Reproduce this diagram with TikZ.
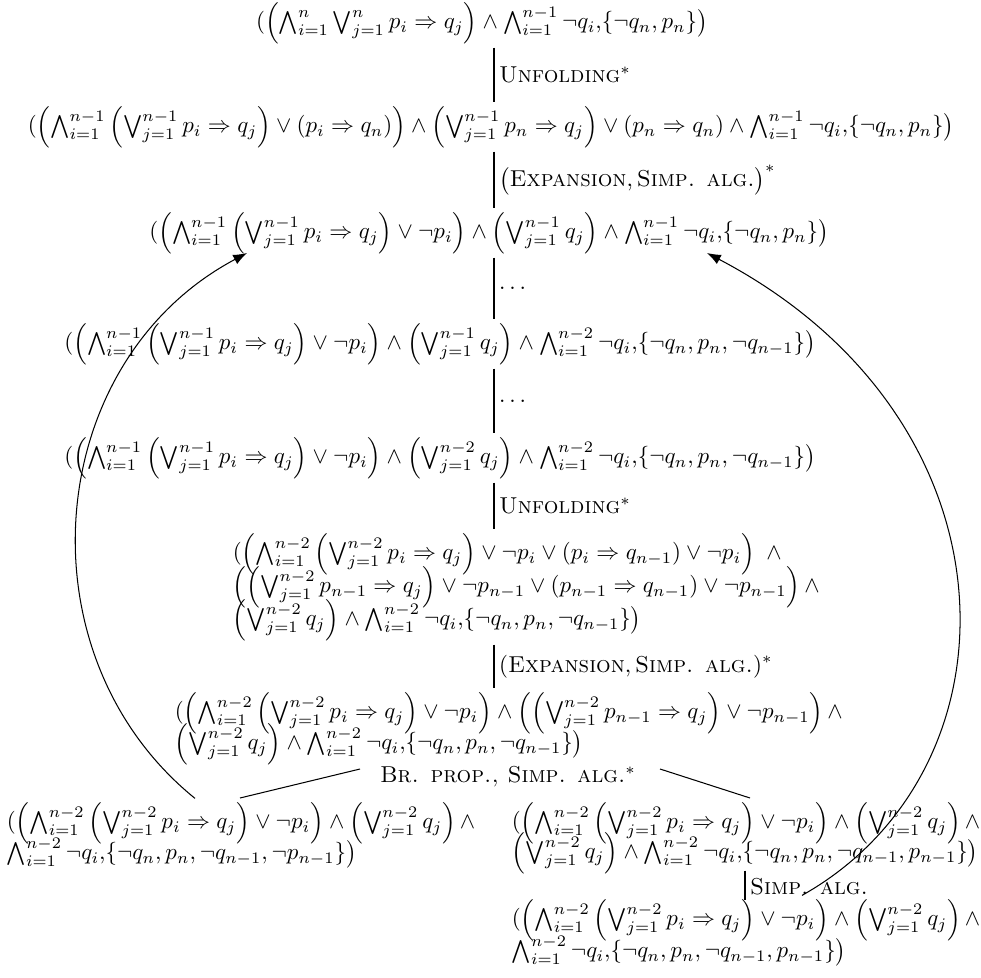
\documentclass[tikz,border=0pt]{standalone}
\usepackage{amsmath}
\usetikzlibrary{arrows.meta}
\newcommand\Wi[1]{\bigwedge_{i=1}^{#1}}
\newcommand\Vj[1]{\bigvee_{j=1}^{#1}}
\begin{document}
\begin{tikzpicture}[x=0.4348pt,y=-0.4348pt,
  formula/.style={inner sep=1.5pt},
  mline/.style={inner sep=1.5pt, anchor=west},
  rulelab/.style={right, inner sep=2pt},
  edge/.style={line width=0.45pt},
  back/.style={-{Latex[length=6pt,width=4.5pt]}, line width=0.45pt}]
\useasboundingbox (0,0) rectangle (981,978);
\coordinate (cx) at (494,0);
\node[formula] (r1) at (482,23) {$(\left(\Wi{n}\Vj{n} p_i \Rightarrow q_j\right) \wedge \Wi{n-1}\neg q_i{,}\{\neg q_n, p_n\}\bigr)$};
\node[formula] (r2) at (491,127) {$(\left(\Wi{n-1}\left(\Vj{n-1} p_i \Rightarrow q_j\right) \vee (p_i \Rightarrow q_n)\right) \wedge \left(\Vj{n-1} p_n \Rightarrow q_j\right) \vee (p_n \Rightarrow q_n) \wedge \Wi{n-1}\neg q_i{,}\{\neg q_n, p_n\}\bigr)$};
\node[formula] (r3) at (489,233) {$(\left(\Wi{n-1}\left(\Vj{n-1} p_i \Rightarrow q_j\right) \vee \neg p_i\right) \wedge \left(\Vj{n-1} q_j\right) \wedge \Wi{n-1}\neg q_i{,}\{\neg q_n, p_n\}\bigr)$};
\node[formula] (r4) at (440,344) {$(\left(\Wi{n-1}\left(\Vj{n-1} p_i \Rightarrow q_j\right) \vee \neg p_i\right) \wedge \left(\Vj{n-1} q_j\right) \wedge \Wi{n-2}\neg q_i{,}\{\neg q_n, p_n, \neg q_{n-1}\}\bigr)$};
\node[formula] (r5) at (440,458) {$(\left(\Wi{n-1}\left(\Vj{n-1} p_i \Rightarrow q_j\right) \vee \neg p_i\right) \wedge \left(\Vj{n-2} q_j\right) \wedge \Wi{n-2}\neg q_i{,}\{\neg q_n, p_n, \neg q_{n-1}\}\bigr)$};
% row 6 (three lines)
\node[mline] (r6a) at (229,554) {$(\left(\Wi{n-2}\left(\Vj{n-2} p_i \Rightarrow q_j\right) \vee \neg p_i \vee (p_i \Rightarrow q_{n-1}) \vee \neg p_i\right)\ \wedge$};
\node[mline] (r6b) at (229,587) {$\left(\left(\Vj{n-2} p_{n-1} \Rightarrow q_j\right) \vee \neg p_{n-1} \vee (p_{n-1} \Rightarrow q_{n-1}) \vee \neg p_{n-1}\right)\wedge$};
\node[mline] (r6c) at (229,620) {$\left(\Vj{n-2} q_j\right) \wedge \Wi{n-2}\neg q_i{,}\{\neg q_n, p_n, \neg q_{n-1}\}\bigr)$};
% row 7 (two lines)
\node[mline] (r7a) at (171,713) {$(\left(\Wi{n-2}\left(\Vj{n-2} p_i \Rightarrow q_j\right) \vee \neg p_i\right) \wedge \left(\left(\Vj{n-2} p_{n-1} \Rightarrow q_j\right) \vee \neg p_{n-1}\right) \wedge$};
\node[mline] (r7b) at (171,744) {$\left(\Vj{n-2} q_j\right) \wedge \Wi{n-2}\neg q_i{,}\{\neg q_n, p_n, \neg q_{n-1}\}\bigr)$};
\node[inner sep=2pt] (br) at (508,777) {\textsc{Br. prop., Simp. alg.}$^*$};
% bottom left
\node[mline] (bla) at (3,823) {$(\left(\Wi{n-2}\left(\Vj{n-2} p_i \Rightarrow q_j\right) \vee \neg p_i\right) \wedge \left(\Vj{n-2} q_j\right) \wedge$};
\node[mline] (blb) at (3,853) {$\Wi{n-2}\neg q_i{,}\{\neg q_n, p_n, \neg q_{n-1}, \neg p_{n-1}\}\bigr)$};
% bottom right
\node[mline] (bma) at (508,823) {$(\left(\Wi{n-2}\left(\Vj{n-2} p_i \Rightarrow q_j\right) \vee \neg p_i\right) \wedge \left(\Vj{n-2} q_j\right) \wedge$};
\node[mline] (bmb) at (508,853) {$\left(\Vj{n-2} q_j\right) \wedge \Wi{n-2}\neg q_i{,}\{\neg q_n, p_n, \neg q_{n-1}, p_{n-1}\}\bigr)$};
% final
\node[mline] (bfa) at (508,920) {$(\left(\Wi{n-2}\left(\Vj{n-2} p_i \Rightarrow q_j\right) \vee \neg p_i\right) \wedge \left(\Vj{n-2} q_j\right) \wedge$};
\node[mline] (bfb) at (508,951) {$\Wi{n-2}\neg q_i{,}\{\neg q_n, p_n, \neg q_{n-1}, p_{n-1}\}\bigr)$};
% vertical rule lines
\draw[edge] (r1.south -| cx) -- node[rulelab] {\textsc{Unfolding}$^*$} (r2.north -| cx);
\draw[edge] (r2.south -| cx) -- node[rulelab] {$\bigl(\textsc{Expansion}, \textsc{Simp. alg.}\bigr)^*$} (r3.north -| cx);
\draw[edge] (r3.south -| cx) -- node[rulelab] {$\dots$} (r4.north -| cx);
\draw[edge] (r4.south -| cx) -- node[rulelab] {$\dots$} (r5.north -| cx);
\draw[edge] (r5.south -| cx) -- node[rulelab] {\textsc{Unfolding}$^*$} (r6a.north -| cx);
\draw[edge] (r6c.south -| cx) -- node[rulelab] {$(\textsc{Expansion}, \textsc{Simp. alg.})^*$} (r7a.north -| cx);
\coordinate (bl1) at (360,769);
\coordinate (bl2) at (240,798);
\coordinate (bm1) at (660,769);
\coordinate (bm2) at (750,798);
\draw[edge] (bl1) -- (bl2);
\draw[edge] (bm1) -- (bm2);
\coordinate (sx) at (745,0);
\draw[edge, shorten <=-3pt, shorten >=-2pt] (bmb.south -| sx) -- node[rulelab] {\textsc{Simp. alg.}} (bfa.north -| sx);
% back arrows
\draw[back] (bla.north -| 195,0) .. controls (18,655) and (42,362) .. (247,253);
\draw[back] (bfa.north -| 802,0) .. controls (1025,770) and (1025,420) .. (707,253);
\end{tikzpicture}
\end{document}
